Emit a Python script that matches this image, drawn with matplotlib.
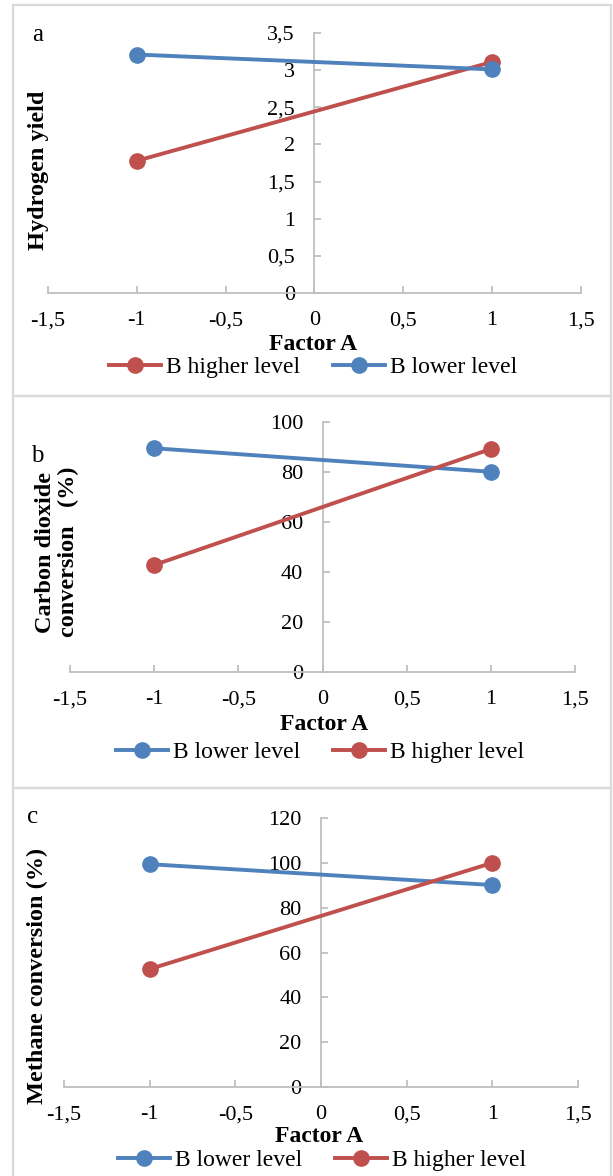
import matplotlib.pyplot as plt
from matplotlib.patches import Rectangle
from matplotlib.ticker import FuncFormatter, MultipleLocator

plt.rcParams['font.family'] = ['Liberation Serif', 'DejaVu Serif']

# data
factor_a = [-1, 1]
h2_higher = [1.78, 3.11]
h2_lower = [3.21, 3.01]
co2_lower = [89.5, 80.1]
co2_higher = [42.8, 89.2]
ch4_lower = [99.4, 90.1]
ch4_higher = [52.6, 100.0]

RED = '#C0504D'
BLUE = '#4F81BD'
GRID = '#BFBFBF'
W, H = 613, 1176

fig = plt.figure(figsize=(W / 100, H / 100), dpi=100)


def box(l, t, r, b):  # pixel box -> figure fraction rect
    return [l / W, 1 - b / H, (r - l) / W, (b - t) / H]


def comma(v, pos):
    return ('%g' % v).replace('.', ',')


# panel frames
for t, b in [(5, 396), (396, 788), (788, 1190)]:
    fig.add_artist(Rectangle((13 / W, 1 - b / H), (611 - 13) / W, (b - t) / H,
                             transform=fig.transFigure, fill=False,
                             edgecolor='#D9D9D9', linewidth=1.6))


def panel(rect, ymax, ystep, series, letter, letter_xy, ylabel, ylab_xy,
          xlab_xy, leg_xy):
    ax = fig.add_axes(box(*rect))
    ax.set_xlim(-1.5, 1.5)
    ax.set_ylim(0, ymax)
    ax.xaxis.set_major_locator(MultipleLocator(0.5))
    ax.yaxis.set_major_locator(MultipleLocator(ystep))
    ax.xaxis.set_major_formatter(FuncFormatter(comma))
    ax.yaxis.set_major_formatter(FuncFormatter(comma))
    for s in ['top', 'right']:
        ax.spines[s].set_visible(False)
    ax.spines['left'].set_position(('data', 0))
    for s in ['left', 'bottom']:
        ax.spines[s].set_color(GRID)
        ax.spines[s].set_linewidth(1.3)
    ax.tick_params(axis='both', direction='in', length=5, width=1.3,
                   color=GRID, labelsize=16)
    ax.tick_params(axis='y', pad=14)
    ax.tick_params(axis='x', pad=13)
    for ys, c, lab in series:
        ax.plot(factor_a, ys, '-o', color=c, lw=2.8, ms=11, label=lab,
                clip_on=False, zorder=3)
    fig.text(letter_xy[0] / W, 1 - letter_xy[1] / H, letter, fontsize=18,
             ha='center', va='baseline')
    fig.text(ylab_xy[0] / W, 1 - ylab_xy[1] / H, ylabel, fontsize=17.5,
             fontweight='bold', rotation=90, ha='center', va='center',
             multialignment='center', linespacing=1.15)
    fig.text(xlab_xy[0] / W, 1 - xlab_xy[1] / H, 'Factor A', fontsize=17,
             fontweight='bold', ha='center', va='center')
    ax.legend(loc='center', bbox_to_anchor=(leg_xy[0] / W, 1 - leg_xy[1] / H),
              bbox_transform=fig.transFigure, ncol=2, frameon=False,
              fontsize=17, handlelength=2.2, handletextpad=0.2,
              columnspacing=1.4, borderpad=0, borderaxespad=0)
    return ax


panel((48, 33, 581, 293), 3.5, 0.5,
      [(h2_higher, RED, 'B higher level'), (h2_lower, BLUE, 'B lower level')],
      'a', (38, 41), 'Hydrogen yield', (39, 170), (313, 345), (313, 367))

panel((70, 422, 575, 672), 100, 20,
      [(co2_lower, BLUE, 'B lower level'), (co2_higher, RED, 'B higher level')],
      'b', (37, 462), 'Carbon dioxide\nconversion   (%)', (57, 552),
      (324, 725), (320, 752))

panel((64, 818, 578, 1087), 120, 20,
      [(ch4_lower, BLUE, 'B lower level'), (ch4_higher, RED, 'B higher level')],
      'c', (33, 823), 'Methane conversion (%)', (37, 976), (319, 1137),
      (322, 1160))

fig.savefig('out.png', dpi=100)
